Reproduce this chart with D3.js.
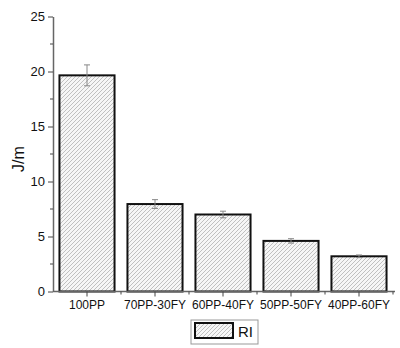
<!DOCTYPE html>
<html><head><meta charset="utf-8">
<script src="https://cdn.jsdelivr.net/npm/d3@7"></script>
<style>body{margin:0;background:#fff}svg{display:block}</style>
</head><body>
<script>
const categories = ["100PP","70PP-30FY","60PP-40FY","50PP-50FY","40PP-60FY"];
const values = [19.65, 7.95, 7.0, 4.6, 3.2];
const errors = [0.95, 0.4, 0.3, 0.2, 0.12];
const yTicks = [0,5,10,15,20,25];
const yMinorTicks = [2.5,7.5,12.5,17.5,22.5];
const seriesName = "RI";
const yLabel = "J/m";

const W=400,H=348;
const svg=d3.select("body").append("svg").attr("width",W).attr("height",H);
const defs=svg.append("defs");
const pat=defs.append("pattern").attr("id","hatch").attr("patternUnits","userSpaceOnUse")
  .attr("width",4).attr("height",4);
pat.append("rect").attr("width",4).attr("height",4).attr("fill","#f6f6f6");
pat.append("path").attr("d","M-1,1 L1,-1 M0,4 L4,0 M3,5 L5,3").attr("stroke","#b3b3b3").attr("stroke-width",0.8);

const x=d3.scaleBand().domain(categories).range([53,393]).paddingInner(0.19).paddingOuter(0.095);
const y=d3.scaleLinear().domain([0,25]).range([291.5,16.5]);
const font="'Liberation Sans', Arial, sans-serif";

// bars
svg.selectAll("rect.bar").data(categories).enter().append("rect")
  .attr("x",d=>x(d)).attr("width",x.bandwidth())
  .attr("y",(d,i)=>y(values[i])).attr("height",(d,i)=>y(0)-y(values[i]))
  .attr("fill","url(#hatch)").attr("stroke","#111").attr("stroke-width",2);

// error bars
const eg=svg.append("g").attr("stroke","#888").attr("stroke-width",1);
categories.forEach((c,i)=>{
  const cx=x(c)+x.bandwidth()/2;
  eg.append("line").attr("x1",cx).attr("x2",cx).attr("y1",y(values[i]+errors[i])).attr("y2",y(values[i]-errors[i]));
  [values[i]+errors[i],values[i]-errors[i]].forEach(v=>{
    eg.append("line").attr("x1",cx-3).attr("x2",cx+3).attr("y1",y(v)).attr("y2",y(v));
  });
});

// y axis
const ya=svg.append("g").attr("transform","translate(53,0)")
  .call(d3.axisLeft(y).tickValues(yTicks).tickSize(5).tickPadding(3).tickSizeOuter(0));
ya.append("g").selectAll("line").data(yMinorTicks).enter().append("line")
  .attr("x1",0).attr("x2",-3).attr("y1",d=>y(d)).attr("y2",d=>y(d));
ya.selectAll("line").attr("stroke","#444");
ya.select(".domain").attr("stroke","#666").attr("stroke-width",1.5);
ya.selectAll("text").attr("font-family",font).attr("font-size",13).attr("fill","#111");

// x axis
const xa=svg.append("g").attr("transform","translate(0,291.5)")
  .call(d3.axisBottom(x).tickSize(5).tickPadding(4).tickSizeOuter(0));
xa.select(".domain").attr("d","M53,0H395").attr("stroke","#666").attr("stroke-width",1.5);
const bounds=categories.map(c=>x(c)+x.bandwidth()+x.step()*0.19/2);
xa.append("g").selectAll("line").data(bounds).enter().append("line")
  .attr("x1",d=>d).attr("x2",d=>d).attr("y1",0).attr("y2",3).attr("stroke","#444");
xa.selectAll(".tick line").attr("stroke","#444");
xa.selectAll("text").attr("font-family",font).attr("font-size",12).attr("fill","#111");

// y label
svg.append("text").attr("transform","translate(24,159) rotate(-90)")
  .attr("text-anchor","middle").attr("font-family",font).attr("font-size",16).attr("fill","#111").text(yLabel);

// legend
const lg=svg.append("g");
lg.append("rect").attr("x",191).attr("y",320).attr("width",67).attr("height",24)
  .attr("fill","#fff").attr("stroke","#999").attr("stroke-width",1);
lg.append("rect").attr("x",195).attr("y",323).attr("width",38).attr("height",15)
  .attr("fill","url(#hatch)").attr("stroke","#111").attr("stroke-width",2);
lg.append("text").attr("x",238).attr("y",337).attr("font-family",font).attr("font-size",15).attr("fill","#111").text(seriesName);
</script>
</body></html>
